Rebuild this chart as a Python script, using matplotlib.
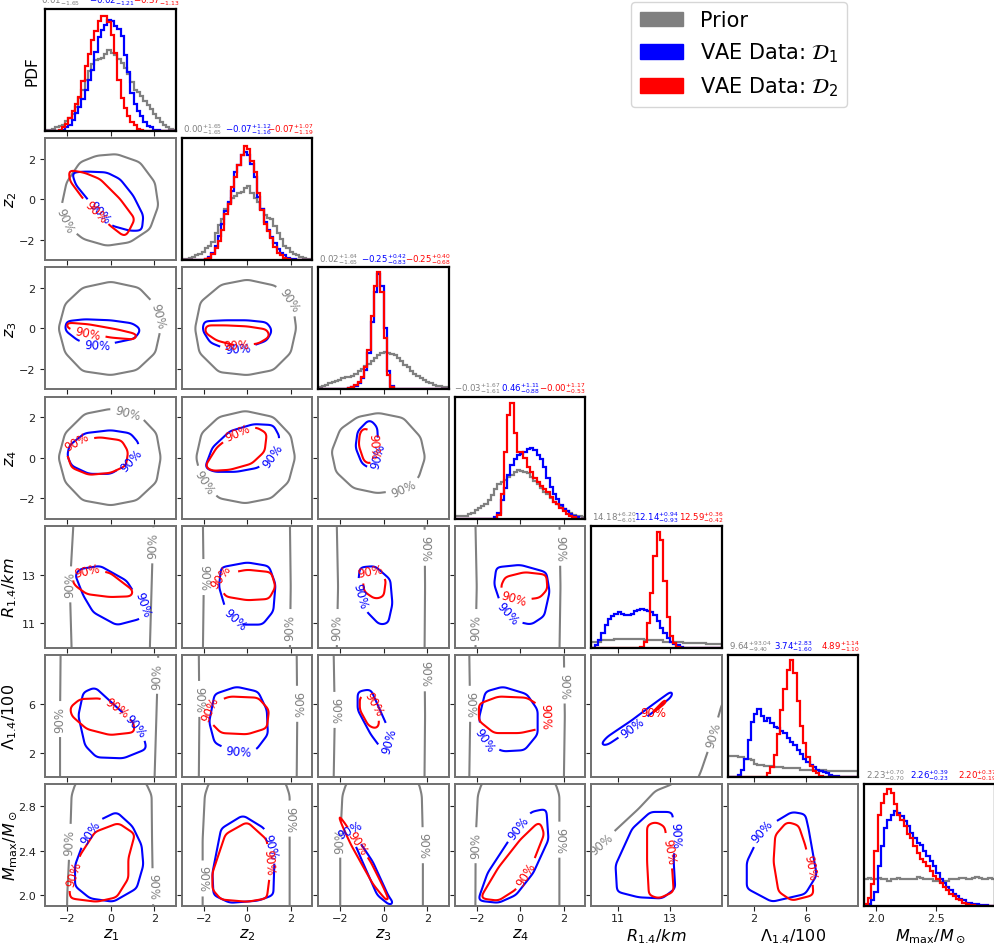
import numpy as np
import matplotlib.pyplot as plt
from matplotlib.patches import Patch
from matplotlib.path import Path

names = [r'$z_1$', r'$z_2$', r'$z_3$', r'$z_4$', r'$R_{1.4}/km$',
         r'$\Lambda_{1.4}/100$', r'$M_{\max}/M_\odot$']
ranges = [(-3, 3), (-3, 3), (-3, 3), (-3, 3), (10, 15), (0, 10), (1.9, 3.0)]
xticks = [[-2, 0, 2]] * 4 + [[11, 13], [2, 6], [2.0, 2.5]]
yticks = [[-2, 0, 2]] * 4 + [[11, 13], [2, 6], [2.0, 2.4, 2.8]]
colors = ['grey', 'blue', 'red']

# median, +err, -err for prior, D1, D2
q_z1 = [(0.01, 1.66, 1.65), (-0.02, 1.14, 1.21), (-0.37, 1.00, 1.13)]
q_z2 = [(0.00, 1.65, 1.65), (-0.07, 1.12, 1.16), (-0.07, 1.07, 1.19)]
q_z3 = [(0.02, 1.64, 1.65), (-0.25, 0.42, 0.83), (-0.25, 0.40, 0.68)]
q_z4 = [(-0.03, 1.67, 1.61), (0.46, 1.11, 0.88), (-0.00, 1.17, 0.53)]
q_R = [(14.18, 6.20, 6.01), (12.14, 0.94, 0.93), (12.59, 0.36, 0.42)]
q_L = [(9.64, 93.04, 9.40), (3.74, 2.83, 1.60), (4.89, 1.14, 1.10)]
q_M = [(2.23, 0.70, 0.70), (2.26, 0.39, 0.23), (2.20, 0.37, 0.19)]

# 1D marginals, 40 bins over the panel range, height in % of panel
h_z1_prior = [1, 1, 2, 3, 4, 5, 8, 11, 14, 20, 27, 34, 42, 49, 55, 58, 59, 60, 63, 66,
              64, 62, 59, 56, 52, 47, 40, 34, 32, 29, 25, 21, 18, 14, 11, 7, 5, 3, 2, 1]
h_z1_d1 = [0, 0, 0, 0, 0, 1, 3, 5, 9, 15, 20, 26, 34, 42, 50, 65, 77, 83, 87, 91,
           90, 86, 84, 78, 62, 48, 31, 22, 16, 12, 7, 4, 3, 1, 1, 0, 0, 0, 0, 0]
h_z1_d2 = [0, 0, 0, 0, 1, 3, 6, 11, 16, 22, 28, 41, 53, 63, 75, 82, 90, 94, 94, 89,
           79, 64, 42, 27, 19, 12, 7, 5, 2, 1, 0, 0, 0, 0, 0, 0, 0, 0, 0, 0]
h_z2_prior = [1, 1, 2, 3, 4, 5, 7, 10, 12, 15, 22, 29, 34, 42, 47, 51, 53, 55, 56, 59,
              61, 55, 51, 48, 42, 37, 35, 34, 28, 22, 17, 12, 10, 7, 5, 4, 3, 2, 1, 1]
h_z2_d1 = [0, 0, 0, 0, 0, 0, 0, 1, 3, 6, 12, 20, 30, 40, 48, 57, 72, 78, 86, 89,
           86, 79, 68, 52, 42, 31, 25, 19, 14, 9, 6, 4, 2, 1, 1, 0, 0, 0, 0, 0]
h_z2_d2 = [0, 0, 0, 0, 0, 0, 0, 1, 2, 5, 10, 16, 25, 38, 46, 60, 68, 78, 86, 94,
           91, 81, 72, 55, 41, 30, 24, 18, 11, 6, 4, 2, 1, 0, 0, 0, 0, 0, 0, 0]
h_z3_prior = [2, 3, 4, 5, 6, 7, 8, 9, 10, 10, 11, 13, 15, 17, 19, 21, 23, 26, 28, 30,
              31, 30, 29, 28, 26, 23, 20, 18, 15, 13, 11, 9, 8, 6, 5, 4, 3, 3, 2, 2]
h_z3_d1 = [0, 0, 0, 0, 0, 0, 0, 0, 0, 1, 2, 3, 5, 9, 16, 30, 55, 80, 95, 85,
           50, 15, 3, 0, 0, 0, 0, 0, 0, 0, 0, 0, 0, 0, 0, 0, 0, 0, 0, 0]
h_z3_d2 = [0, 0, 0, 0, 0, 0, 0, 0, 0, 1, 2, 4, 6, 10, 18, 32, 60, 85, 96, 80,
           42, 12, 2, 0, 0, 0, 0, 0, 0, 0, 0, 0, 0, 0, 0, 0, 0, 0, 0, 0]
h_z4_prior = [2, 2, 2, 2, 4, 5, 7, 9, 10, 12, 15, 19, 24, 28, 30, 32, 34, 36, 38, 40,
              39, 38, 37, 34, 31, 28, 25, 22, 20, 17, 14, 12, 10, 8, 6, 5, 3, 2, 2, 1]
h_z4_d1 = [0, 0, 0, 0, 0, 0, 0, 0, 0, 0, 0, 0, 1, 5, 15, 25, 36, 44, 49, 52,
           53, 55, 57, 58, 56, 52, 49, 42, 33, 26, 20, 16, 11, 8, 6, 4, 2, 1, 0, 0]
h_z4_d2 = [0, 0, 0, 0, 0, 0, 0, 0, 0, 0, 0, 0, 0, 3, 20, 55, 85, 95, 70, 55,
           55, 50, 42, 38, 33, 30, 27, 24, 22, 18, 14, 12, 9, 6, 4, 2, 1, 0, 0, 0]
h_R_prior = [5, 5, 5, 6, 6, 6, 6, 7, 7, 7, 7, 7, 7, 7, 7, 7, 6, 6, 6, 6,
             6, 6, 5, 5, 5, 5, 5, 5, 4, 4, 4, 4, 4, 4, 4, 3, 3, 3, 3, 3]
h_R_d1 = [0, 2, 6, 12, 19, 24, 26, 28, 29, 28, 27, 27, 28, 30, 31, 32, 31, 30, 29, 27,
          22, 16, 12, 8, 5, 3, 2, 1, 0, 0, 0, 0, 0, 0, 0, 0, 0, 0, 0, 0]
h_R_d2 = [0, 0, 0, 0, 0, 0, 0, 0, 0, 0, 0, 0, 0, 0, 0, 1, 5, 20, 45, 75,
          95, 88, 55, 25, 10, 4, 1, 0, 0, 0, 0, 0, 0, 0, 0, 0, 0, 0, 0, 0]
h_L_prior = [17, 17, 17, 16, 16, 15, 15, 14, 11, 10, 10, 9, 9, 9, 8, 8, 8, 7, 7, 7,
             7, 7, 6, 6, 6, 6, 6, 6, 6, 6, 5, 5, 5, 5, 5, 5, 5, 5, 5, 5]
h_L_d1 = [0, 0, 0, 2, 6, 15, 30, 45, 52, 56, 50, 46, 48, 44, 41, 40, 38, 36, 32, 29,
          26, 22, 19, 15, 12, 10, 8, 6, 5, 4, 3, 2, 1, 1, 0, 0, 0, 0, 0, 0]
h_L_d2 = [0, 0, 0, 0, 0, 0, 0, 0, 0, 0, 0, 0, 3, 8, 18, 35, 55, 72, 88, 96,
          85, 62, 42, 28, 16, 9, 5, 3, 1, 0, 0, 0, 0, 0, 0, 0, 0, 0, 0, 0]
h_M_prior = [22, 23, 22, 22, 23, 22, 22, 21, 22, 22, 23, 22, 22, 22, 22, 22, 24, 23, 22, 22,
             22, 21, 21, 20, 21, 21, 22, 22, 22, 23, 23, 22, 22, 23, 24, 23, 22, 22, 23, 22]
h_M_d1 = [0, 2, 5, 12, 33, 49, 64, 71, 75, 78, 76, 74, 70, 66, 60, 56, 52, 50, 45, 41,
          37, 33, 27, 22, 19, 16, 13, 10, 8, 6, 5, 3, 3, 2, 2, 1, 1, 1, 0, 0]
h_M_d2 = [2, 7, 18, 45, 75, 85, 92, 96, 93, 84, 75, 71, 66, 59, 56, 49, 44, 39, 36, 33,
          29, 25, 22, 19, 16, 13, 10, 8, 6, 5, 3, 2, 1, 1, 0, 0, 0, 0, 0, 0]

# 90% contours (x, y); prior / D1 / D2
c_z2z1_prior = [(0.27, 2.22), (1.34, 1.82), (2.03, 0.83), (2.19, -0.32), (1.8, -1.47), (0.88, -2.12),
                (-0.19, -2.29), (-1.26, -1.96), (-2.03, -1.3), (-2.26, -0.32), (-2.03, 0.83), (-1.41, 1.82), (-0.65, 2.14)]
c_z2z1_d1 = [(-1.8, 1.32), (-1.11, 1.36), (-0.19, 1.32), (0.43, 0.99), (1.04, 0.17), (1.5, -0.81),
             (1.43, -1.55), (0.88, -1.55), (0.04, -1.3), (-0.95, -0.15), (-1.6, 0.7)]
c_z2z1_d2 = [(-1.95, 1.45), (-1.2, 1.3), (-0.49, 0.99), (0.43, 0.01), (1.11, -0.97), (0.88, -1.47),
             (0.66, -1.87), (-0.03, -1.3), (-1.26, 0.01), (-1.87, 0.89)]
c_z3z1_prior = [(0, 2.3), (1.3, 2.0), (2.1, 1.1), (2.3, 0), (2.05, -1.2), (1.2, -2.05), (0, -2.3),
                (-1.3, -2.1), (-2.1, -1.2), (-2.4, 0), (-2.1, 1.2), (-1.3, 2.0)]
c_z3z1_d1 = [(-2.05, 0.35), (-1.2, 0.45), (0, 0.4), (1.0, 0.25), (1.4, -0.05), (1.1, -0.5),
             (0, -0.75), (-0.7, -0.85), (-1.5, -0.6), (-2.1, -0.1)]
c_z3z1_d2 = [(-2.1, 0.3), (-1.0, 0.2), (0.3, -0.05), (1.3, -0.3), (1.1, -0.55), (0, -0.45),
             (-1.0, -0.25), (-2.0, 0.0)]
c_z3z2_prior = [(0, 2.4), (1.3, 2.1), (2.1, 1.2), (2.25, 0), (2.0, -1.2), (1.2, -2.05), (0, -2.3),
                (-1.3, -2.15), (-2.2, -1.2), (-2.4, 0), (-2.15, 1.3), (-1.2, 2.15)]
c_z3z2_d1 = [(-2.0, 0.35), (-1.0, 0.4), (0, 0.4), (0.9, 0.3), (1.15, -0.1), (0.9, -0.6),
             (0, -0.95), (-1.0, -1.0), (-1.7, -0.7), (-2.05, -0.1)]
c_z3z2_d2 = [(-1.9, 0.15), (-1.0, 0.15), (0, 0.1), (0.9, -0.05), (1.05, -0.4), (0.5, -0.75),
             (-0.5, -0.85), (-1.4, -0.6), (-1.95, -0.2)]
c_z4z1_prior = [(0, 2.4), (1.3, 2.1), (2.1, 1.2), (2.3, 0), (2.1, -1.2), (1.2, -2.1), (0, -2.35),
                (-1.3, -2.1), (-2.1, -1.2), (-2.4, 0), (-2.1, 1.2), (-1.2, 2.15)]
c_z4z1_d1 = [(-1.9, 0.6), (-1.2, 1.2), (0, 1.35), (0.9, 1.2), (1.3, 0.7), (1.2, 0.1), (0.7, -0.35),
             (0, -0.8), (-1.0, -0.8), (-1.8, -0.4), (-2.0, 0.1)]
c_z4z1_d2 = [(-2.05, 0.3), (-1.5, 0.85), (-0.5, 1.0), (0.5, 0.85), (0.8, 0.3), (0.7, -0.4),
             (0, -0.75), (-1.0, -0.85), (-1.8, -0.5)]
c_z4z2_prior = [(-0.1, 2.3), (1.2, 2.0), (2.0, 1.1), (2.2, 0), (1.9, -1.2), (1.1, -2.0), (-0.1, -2.25),
                (-1.3, -2.0), (-2.1, -1.1), (-2.35, 0), (-2.1, 1.2), (-1.3, 2.0)]
c_z4z2_d1 = [(-1.95, -0.5), (-1.6, 0.5), (-0.8, 1.3), (0.3, 1.65), (1.2, 1.6), (1.5, 1.0),
             (1.2, 0.1), (0.5, -0.5), (-0.5, -0.7), (-1.5, -0.7)]
c_z4z2_d2 = [(-1.95, -0.45), (-1.4, 0.5), (-0.6, 1.2), (0.4, 1.5), (0.9, 1.2), (0.8, 0.3),
             (0.2, -0.3), (-0.8, -0.6), (-1.6, -0.65)]
c_z4z3_prior = [(-0.25, 2.2), (0.9, 1.95), (1.7, 1.0), (1.9, 0), (1.6, -1.0), (0.8, -1.6), (-0.3, -1.75),
                (-1.4, -1.5), (-2.2, -0.7), (-2.4, 0.3), (-2.0, 1.4), (-1.2, 2.0)]
c_z4z3_d1 = [(-0.65, 1.9), (-0.3, 1.5), (-0.25, 0.6), (-0.3, -0.2), (-0.6, -0.55), (-1.0, -0.3),
             (-1.3, 0.5), (-1.2, 1.3)]
c_z4z3_d2 = [(-0.9, 1.5), (-0.5, 1.2), (-0.45, 0.3), (-0.55, -0.35), (-0.9, -0.2), (-1.15, 0.6),
             (-1.1, 1.2)]
c_Rz1_prior = [(-1.8, 9), (-1.8, 10), (-1.88, 12.5), (-1.72, 15), (-1.72, 16), (1.96, 16), (1.96, 15),
               (1.88, 12.5), (1.8, 10), (1.8, 9)]
c_Rz1_d1 = [(-1.41, 13.23), (-0.49, 13.36), (0.73, 12.75), (1.02, 12.34), (1.5, 11.8), (1.65, 11.46),
            (1.34, 11.18), (0.27, 10.93), (-0.8, 11.45), (-1.26, 12.14), (-1.64, 13.0)]
c_Rz1_d2 = [(-1.8, 12.82), (-0.95, 13.23), (-0.03, 13.07), (1.04, 12.34), (0.96, 12.11), (-0.03, 12.08),
            (-1.1, 12.2), (-1.64, 12.55)]
c_Rz2_prior = [(-2.05, 9), (-2.0, 12.5), (-2.05, 16), (1.95, 16), (2.0, 12.5), (1.95, 9)]
c_Rz2_d1 = [(-1.2, 13.3), (0, 13.5), (1.0, 13.35), (1.3, 12.6), (1.2, 11.5), (0.7, 10.95),
            (-0.3, 10.95), (-1.0, 11.6), (-1.3, 12.5)]
c_Rz2_d2 = [(-1.2, 13.0), (0, 13.2), (1.1, 13.1), (1.3, 12.5), (1.0, 12.0), (0, 11.95),
            (-1.0, 12.1), (-1.3, 12.6)]
c_Rz3_prior = [(-2.18, 9), (-2.1, 12.5), (-2.18, 16), (1.87, 16), (1.9, 12.5), (1.87, 9)]
c_Rz3_d1 = [(-1.1, 13.3), (-0.4, 13.35), (0.3, 12.8), (0.4, 11.8), (0.2, 11.0), (-0.2, 10.95),
            (-0.8, 11.5), (-1.2, 12.4)]
c_Rz3_d2 = [(-1.0, 13.1), (-0.3, 13.2), (0.1, 12.8), (0.0, 12.1), (-0.4, 12.0), (-0.9, 12.3)]
c_Rz4_prior = [(-2.08, 9), (-2.0, 12.5), (-2.08, 16), (1.79, 16), (1.85, 12.5), (1.79, 9)]
c_Rz4_d1 = [(-1.1, 13.3), (0, 13.4), (1.2, 13.1), (1.35, 12.3), (1.1, 11.3), (0.5, 10.95),
            (-0.3, 11.1), (-0.9, 11.8), (-1.2, 12.6)]
c_Rz4_d2 = [(-0.7, 12.9), (0.2, 13.1), (1.2, 13.0), (1.25, 12.4), (0.9, 12.05), (0, 11.95),
            (-0.7, 12.1), (-0.9, 12.5)]
c_Lz1_prior = [(-2.33, -1), (-2.33, 5), (-2.3, 11), (2.2, 11), (2.1, 5), (2.0, -1)]
c_Lz1_d1 = [(-1.26, 6.94), (-0.72, 7.35), (0.2, 5.85), (1.04, 4.48), (1.5, 3.39), (1.65, 2.3),
            (0.58, 1.53), (-0.65, 1.61), (-1.18, 2.57), (-1.49, 5.02)]
c_Lz1_d2 = [(-1.87, 5.71), (-1.41, 6.39), (-0.49, 6.45), (0.27, 5.71), (1.04, 4.48), (1.11, 3.66),
            (-0.03, 3.44), (-1.1, 3.93), (-1.8, 5.02)]
c_Lz2_prior = [(-2.23, -1), (-2.2, 5), (-2.23, 11), (2.27, 11), (2.3, 5), (2.27, -1)]
c_Lz2_d1 = [(-1.5, 6.8), (-0.5, 7.4), (0.5, 7.0), (0.9, 5.5), (0.95, 3.5), (0.4, 2.2), (-0.7, 2.1),
            (-1.5, 2.8), (-1.75, 4.5)]
c_Lz2_d2 = [(-1.7, 6.0), (-0.8, 6.6), (0.5, 6.5), (1.0, 5.5), (0.9, 4.0), (0, 3.5), (-1.2, 3.6),
            (-1.75, 4.6)]
c_Lz3_prior = [(-2.31, -1), (-2.25, 5), (-2.31, 11), (1.87, 11), (1.9, 5), (1.87, -1)]
c_Lz3_d1 = [(-1.2, 7.0), (-0.6, 7.2), (-0.3, 6.0), (0.2, 4.0), (0.3, 2.5), (-0.1, 2.3), (-0.6, 3.5),
            (-1.2, 5.5)]
c_Lz3_d2 = [(-1.1, 6.6), (-0.6, 6.8), (-0.4, 5.8), (-0.2, 4.5), (-0.3, 3.9), (-0.7, 4.2), (-1.1, 5.5)]
c_Lz4_prior = [(-2.35, -1), (-2.3, 5), (-2.35, 11), (2.0, 11), (2.05, 5), (2.0, -1)]
c_Lz4_d1 = [(-1.6, 7.0), (-0.8, 7.4), (0.3, 6.8), (0.8, 5.5), (0.8, 3.5), (0.2, 2.2), (-0.8, 2.1),
            (-1.6, 2.8), (-1.9, 4.8)]
c_Lz4_d2 = [(-1.9, 6.0), (-1.0, 6.6), (0.3, 6.5), (1.2, 5.5), (1.0, 4.0), (0, 3.6), (-1.2, 3.6),
            (-1.9, 4.6)]
c_LR_prior = [(13.9, -1), (14.2, 0.5), (14.6, 3), (15.0, 6), (16, 8), (16, -1)]
c_LR_d1 = [(10.25, 2.5), (10.6, 3.3), (11.5, 4.6), (12.5, 6.2), (13.2, 7.3), (13.1, 6.6),
           (12.3, 5.2), (11.3, 3.6), (10.6, 2.6)]
c_LR_d2 = [(11.2, 3.4), (12.0, 4.8), (12.8, 6.4), (13.0, 6.7), (12.9, 6.1), (12.2, 4.8), (11.5, 3.6)]
c_Mz1_prior = [(-2.03, 1.5), (-2.0, 2.0), (-1.85, 2.6), (-1.8, 2.9), (-1.6, 3.02), (1.6, 3.02),
               (1.88, 2.9), (1.9, 2.5), (1.95, 1.9), (1.95, 1.5)]
c_Mz1_d1 = [(0.27, 2.75), (1.0, 2.62), (1.42, 2.45), (1.5, 2.27), (1.19, 2.06), (0.12, 1.94),
            (-0.95, 1.97), (-1.64, 2.08), (-1.64, 2.27), (-1.3, 2.45), (-0.57, 2.67)]
c_Mz1_d2 = [(0.35, 2.65), (1.11, 2.55), (0.81, 2.33), (0.81, 2.15), (0.27, 1.98), (-0.65, 1.94),
            (-1.87, 1.97), (-1.9, 2.08), (-1.41, 2.36), (-0.72, 2.57)]
c_Mz2_prior = [(-2.05, 1.5), (-2.05, 2.5), (-1.95, 2.9), (-1.75, 3.02), (1.75, 3.02), (1.95, 2.9),
               (1.95, 2.5), (1.95, 1.5)]
c_Mz2_d1 = [(-1.6, 2.2), (-1.2, 2.6), (-0.2, 2.72), (0.8, 2.6), (1.25, 2.3), (1.2, 2.0), (0.5, 1.95),
            (-0.8, 1.93), (-1.55, 2.0)]
c_Mz2_d2 = [(-1.6, 2.2), (-1.0, 2.55), (0, 2.66), (0.9, 2.5), (1.05, 2.2), (0.9, 1.97), (0, 1.94),
            (-1.2, 1.96), (-1.6, 2.05)]
c_Mz3_prior = [(-2.0, 1.5), (-2.0, 2.5), (-1.9, 2.9), (-1.7, 3.02), (1.6, 3.02), (1.75, 2.9),
               (1.8, 2.5), (1.8, 1.5)]
c_Mz3_d1 = [(-2.9, 3.0), (-2.5, 2.9), (-1.5, 2.6), (-0.5, 2.3), (0.2, 2.0), (0.5, 1.92), (0.3, 1.9),
            (-0.3, 2.0), (-1.2, 2.4), (-2.2, 2.8), (-2.95, 3.05)]
c_Mz3_d2 = [(-2.7, 2.95), (-1.6, 2.6), (-0.6, 2.3), (0.3, 1.95), (0.2, 1.92), (-0.5, 2.1),
            (-1.5, 2.45), (-2.5, 2.85)]
c_Mz4_prior = [(-2.07, 1.5), (-2.05, 2.5), (-1.95, 2.9), (-1.75, 3.02), (1.6, 3.02), (1.8, 2.9),
               (1.8, 2.5), (1.8, 1.5)]
c_Mz4_d1 = [(-1.95, 1.95), (-1.5, 2.2), (-0.5, 2.5), (0.5, 2.75), (1.2, 2.78), (1.3, 2.5),
            (0.6, 2.2), (-0.2, 2.0), (-1.0, 1.93)]
c_Mz4_d2 = [(-1.85, 1.97), (-1.0, 2.25), (0, 2.5), (0.9, 2.67), (1.1, 2.55), (0.6, 2.3),
            (-0.2, 2.05), (-1.0, 1.95)]
c_MR_prior = [(9, 2.3), (10.09, 2.4), (10.85, 2.57), (11.81, 2.78), (12.45, 2.94), (13.09, 3.0),
              (13.3, 3.05), (16, 3.2), (16, 1), (9, 1)]
c_MR_d1 = [(13.09, 2.75), (12.26, 2.75), (11.56, 2.6), (10.92, 2.27), (10.98, 2.03), (11.81, 1.98),
           (12.71, 1.97), (13.21, 2.06), (13.15, 2.3), (13.2, 2.54)]
c_MR_d2 = [(12.45, 2.66), (12.13, 2.63), (12.13, 2.3), (12.2, 2.0), (12.58, 1.97), (13.15, 2.03),
           (13.09, 2.24), (12.96, 2.4), (12.8, 2.62)]
c_ML_prior = [(-1, 3.03), (0.3, 3.0), (0.8, 3.03), (0.9, 4), (-1, 4)]
c_ML_d1 = [(4.89, 2.75), (3.62, 2.66), (2.59, 2.58), (1.44, 2.3), (1.44, 2.06), (3.36, 1.94),
           (5.92, 2.01), (6.8, 2.18), (6.17, 2.6), (5.92, 2.73)]
c_ML_d2 = [(4.51, 2.66), (3.62, 2.54), (3.49, 2.3), (3.87, 2.03), (4.89, 1.95), (6.55, 2.0),
           (6.42, 2.2), (5.92, 2.45), (5.4, 2.63)]

hists = [(h_z1_prior, h_z1_d1, h_z1_d2), (h_z2_prior, h_z2_d1, h_z2_d2),
         (h_z3_prior, h_z3_d1, h_z3_d2), (h_z4_prior, h_z4_d1, h_z4_d2),
         (h_R_prior, h_R_d1, h_R_d2), (h_L_prior, h_L_d1, h_L_d2), (h_M_prior, h_M_d1, h_M_d2)]
quants = [q_z1, q_z2, q_z3, q_z4, q_R, q_L, q_M]
contours = {
    (1, 0): (c_z2z1_prior, c_z2z1_d1, c_z2z1_d2),
    (2, 0): (c_z3z1_prior, c_z3z1_d1, c_z3z1_d2), (2, 1): (c_z3z2_prior, c_z3z2_d1, c_z3z2_d2),
    (3, 0): (c_z4z1_prior, c_z4z1_d1, c_z4z1_d2), (3, 1): (c_z4z2_prior, c_z4z2_d1, c_z4z2_d2),
    (3, 2): (c_z4z3_prior, c_z4z3_d1, c_z4z3_d2),
    (4, 0): (c_Rz1_prior, c_Rz1_d1, c_Rz1_d2), (4, 1): (c_Rz2_prior, c_Rz2_d1, c_Rz2_d2),
    (4, 2): (c_Rz3_prior, c_Rz3_d1, c_Rz3_d2), (4, 3): (c_Rz4_prior, c_Rz4_d1, c_Rz4_d2),
    (5, 0): (c_Lz1_prior, c_Lz1_d1, c_Lz1_d2), (5, 1): (c_Lz2_prior, c_Lz2_d1, c_Lz2_d2),
    (5, 2): (c_Lz3_prior, c_Lz3_d1, c_Lz3_d2), (5, 3): (c_Lz4_prior, c_Lz4_d1, c_Lz4_d2),
    (5, 4): (c_LR_prior, c_LR_d1, c_LR_d2),
    (6, 0): (c_Mz1_prior, c_Mz1_d1, c_Mz1_d2), (6, 1): (c_Mz2_prior, c_Mz2_d1, c_Mz2_d2),
    (6, 2): (c_Mz3_prior, c_Mz3_d1, c_Mz3_d2), (6, 3): (c_Mz4_prior, c_Mz4_d1, c_Mz4_d2),
    (6, 4): (c_MR_prior, c_MR_d1, c_MR_d2), (6, 5): (c_ML_prior, c_ML_d1, c_ML_d2),
}

# where the "90%" labels sit on each contour
label_pos = {
    (1, 0): ([(-1.8, -0.97)], [(-0.49, -0.64)], [(-0.57, -0.47)]),
    (2, 0): ([(1.8, 0.56)], [(-0.63, -0.85)], [(-1.05, -0.23)]),
    (2, 1): ([(1.81, 1.3)], [(-0.43, -1.0)], [(-0.52, -0.82)]),
    (3, 0): ([(0.79, 2.2)], [(0.95, -0.1)], [(-1.6, 0.83)]),
    (3, 1): ([(-1.8, -1.05)], [(0.95, 0.3)], [(-0.34, 0.93)]),
    (3, 2): ([(0.86, -1.45)], [(-0.3, 0.1)], [(-0.5, 0.6)]),
    (4, 0): ([(-1.87, 12.6), (1.9, 14.2)], [(1.5, 11.8)], [(-1.03, 13.1)]),
    (4, 1): ([(-2.0, 12.9), (1.95, 10.85)], [(-0.66, 11.1)], [(-1.16, 12.9)]),
    (4, 2): ([(-2.1, 10.85), (1.87, 14.1)], [(-0.9, 12.2)], [(-0.6, 13.1)]),
    (4, 3): ([(-2.0, 10.85), (1.79, 14.1)], [(-0.42, 11.5)], [(-0.3, 12.0)]),
    (5, 0): ([(-2.33, 4.75), (2.1, 8.3)], [(1.2, 4.3)], [(0.27, 5.71)]),
    (5, 1): ([(-2.2, 6.4), (2.27, 6.0)], [(-0.4, 2.1)], [(-1.38, 5.57)]),
    (5, 2): ([(-2.25, 5.5), (1.9, 8.5)], [(0.25, 3.0)], [(-0.5, 6.0)]),
    (5, 3): ([(-2.3, 6.0), (2.05, 7.5)], [(-1.7, 3.0)], [(1.1, 5.0)]),
    (5, 4): ([(14.6, 3.5)], [(11.8, 3.5)], [(12.4, 5.0)]),
    (6, 0): ([(-1.85, 2.48), (1.9, 2.08)], [(-0.95, 2.57)], [(-1.8, 2.2)]),
    (6, 1): ([(-2.05, 2.15), (1.95, 2.69)], [(1.2, 2.45)], [(1.05, 2.3)]),
    (6, 2): ([(-2.0, 2.5), (1.8, 2.45)], [(-2.2, 2.8)], [(-1.0, 2.5)]),
    (6, 3): ([(-2.05, 2.45), (1.8, 2.5)], [(0.0, 2.6)], [(-0.2, 2.25)]),
    (6, 4): ([(10.41, 2.46)], [(13.2, 2.54)], [(12.96, 2.4)]),
    (6, 5): ([], [(2.59, 2.58)], [(6.2, 2.25)]),
}
title_x = [(-0.037, 0.336, 0.668), (0.008, 0.327, 0.654), (0.002, 0.326, 0.664),
           (-0.007, 0.35, 0.644), (0.002, 0.324, 0.669), (0.004, 0.349, 0.709),
           (0.013, 0.35, 0.718)]


def poly_field(poly, xr, yr, n=181):
    # signed distance (axes units) to the traced polygon, lightly smoothed
    sx, sy = xr[1] - xr[0], yr[1] - yr[0]
    p = (np.array(poly, float) - [xr[0], yr[0]]) / [sx, sy]
    g = np.linspace(-0.03, 1.03, n)
    gx, gy = np.meshgrid(g, g)
    pts = np.column_stack([gx.ravel(), gy.ravel()])
    a = p
    ab = np.roll(p, -1, 0) - a
    ap = pts[:, None, :] - a[None]
    t = np.clip((ap * ab).sum(-1) / (ab ** 2).sum(-1), 0, 1)
    diff = ap - t[..., None] * ab
    d = np.sqrt((diff ** 2).sum(-1)).min(1)
    inside = Path(p).contains_points(pts)
    f = np.where(inside, -d, d).reshape(n, n)
    w = 11
    k = np.ones(w) / w
    for axis in (0, 1):
        fp = np.pad(f, [(w // 2, w // 2) if a_ == axis else (0, 0) for a_ in (0, 1)], mode='edge')
        f = np.apply_along_axis(lambda r: np.convolve(r, k, mode='valid'), axis, fp)
    return xr[0] + gx * sx, yr[0] + gy * sy, f


fig, axes = plt.subplots(7, 7, figsize=(9.95, 9.45), dpi=100)
fig.subplots_adjust(left=0.0457, right=1.0, bottom=0.040, top=0.9894, wspace=0.046, hspace=0.059)

for i in range(7):
    for j in range(7):
        ax = axes[i, j]
        if j > i:
            ax.axis('off')
            continue
        ax.set_xlim(ranges[j])
        ax.set_xticks(xticks[j])
        ax.tick_params(direction='out', length=3.5, width=0.8, labelsize=8, colors='#222222')
        ax.tick_params(axis='x', pad=1.5)
        if i == j:
            edges = np.linspace(ranges[i][0], ranges[i][1], 41)
            for h, c in zip(hists[i], colors):
                ax.stairs(h, edges, color=c, lw=1.6)
            ax.set_ylim(0, 100)
            ax.set_yticks([])
            for s in ax.spines.values():
                s.set_color('black')
                s.set_linewidth(1.6)
            for (m, up, lo), c, fx in zip(quants[i], colors, title_x[i]):
                ax.text(fx, 1.015, rf'${m:.2f}^{{+{up:.2f}}}_{{-{lo:.2f}}}$', color=c,
                        fontsize=6.2, transform=ax.transAxes, ha='left', va='bottom')
        else:
            ax.set_ylim(ranges[i])
            ax.set_yticks(yticks[i])
            for s in ax.spines.values():
                s.set_color('#707070')
                s.set_linewidth(1.4)
            for poly, c, lp in zip(contours[(i, j)], colors, label_pos[(i, j)]):
                X, Y, F = poly_field(poly, ranges[j], ranges[i])
                cs = ax.contour(X, Y, F, levels=[0], colors=c, linewidths=1.5)
                if lp:
                    ax.clabel(cs, fmt=lambda v: '90%', inline=True, fontsize=8.5, manual=lp)
        if i < 6:
            ax.set_xticklabels([])
        else:
            ax.set_xlabel(names[j], fontsize=11.5)
            ax.xaxis.set_label_coords(0.5, -0.163)
        if j > 0 or i == 0:
            ax.set_yticklabels([])
        else:
            ax.set_ylabel(names[i], fontsize=11.5)
            ax.yaxis.set_label_coords(-0.2, 0.5)

axes[0, 0].set_ylabel('PDF', fontsize=11)

handles = [Patch(color=c) for c in colors]
fig.legend(handles, ['Prior', r'VAE Data: $\mathcal{D}_1$', r'VAE Data: $\mathcal{D}_2$'],
           loc='upper right', bbox_to_anchor=(0.8513, 0.9968), borderaxespad=0,
           fontsize=15, handlelength=2.1)

fig.savefig('out.png', dpi=100)
